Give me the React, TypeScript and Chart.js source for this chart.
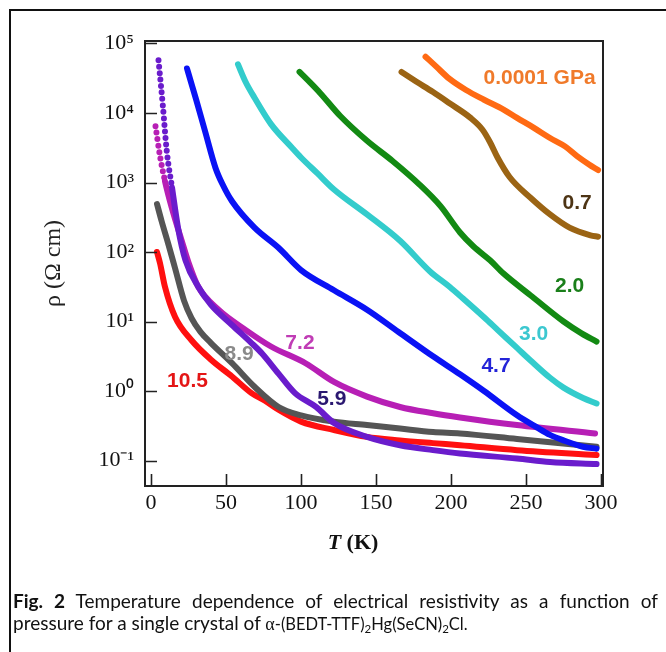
import React, { useEffect, useRef } from 'react';
import { Chart, registerables } from 'chart.js';

Chart.register(...registerables);

// ---------- axis ticks ----------
const xTickValues = [0, 50, 100, 150, 200, 250, 300];
const yTickValues = [0.1, 1, 10, 100, 1000, 10000, 100000];

// ---------- series (T in K, rho in ohm cm) ----------
const T_p0001 = [183, 190, 199, 210, 222, 235, 244, 255, 266, 276, 284, 292, 298];
const R_p0001 = [64600, 46800, 30900, 21400, 15500, 11200, 8500, 6170, 4370, 3310, 2400, 1820, 1510];

const T_p07 = [167, 177, 188, 199, 213, 221, 226, 231, 239, 253, 266, 279, 293, 298];
const R_p07 = [38900, 28200, 20000, 13800, 8510, 5750, 3800, 2290, 1200, 603, 347, 224, 174, 166];

const T_p20 = [99, 106, 113, 126, 144, 161, 179, 193, 206, 215, 226, 235, 254, 275, 287, 297];
const R_p20 = [38900, 27500, 19100, 9120, 3980, 2040, 933, 457, 191, 120, 76, 49, 22.9, 10, 6.76, 5.13];

const T_p30 = [58, 63, 69, 80, 94, 100, 111, 122, 144, 166, 186, 199, 208, 222, 231, 244, 253, 266, 275, 288, 297];
const R_p30 = [50100, 28200, 16600, 6920, 3160, 2290, 1350, 794, 347, 145, 52.5, 31.6, 21.4, 11.5, 7.59, 4.17, 2.75, 1.55, 1.12, 0.794, 0.661];

const T_p47 = [24, 27, 30, 36, 43, 48, 54, 69, 85, 100, 122, 144, 165, 188, 206, 222, 244, 257, 266, 275, 288, 297];
const R_p47 = [43700, 26300, 15800, 5500, 1620, 912, 537, 224, 115, 55, 28.2, 14.8, 7.08, 3.16, 1.74, 1.0, 0.447, 0.302, 0.234, 0.195, 0.158, 0.148];

const T_p59 = [5, 8, 10.5, 14, 18, 23, 31.5, 40, 54, 67, 74, 85, 96, 110, 122, 144, 166, 188, 206, 244, 266, 297];
const R_p59 = [57500, 12000, 2820, 851, 224, 75.9, 31.6, 17.4, 8.91, 4.9, 3.47, 1.78, 0.933, 0.589, 0.347, 0.219, 0.166, 0.141, 0.126, 0.107, 0.0955, 0.0891];

const T_p72 = [3, 6, 9.3, 13.8, 20.5, 25, 31.5, 45, 63, 80, 103, 122, 144, 166, 188, 206, 244, 296];
const R_p72 = [6460, 2400, 1050, 437, 145, 70.8, 31.6, 14.8, 7.59, 4.37, 2.51, 1.35, 0.832, 0.589, 0.479, 0.417, 0.324, 0.245];

const T_p89 = [4, 7, 11.6, 16, 22, 27, 33, 40, 54, 69, 85, 100, 122, 144, 166, 188, 206, 244, 297];
const R_p89 = [490, 282, 129, 58.9, 20, 11.2, 7.08, 4.9, 2.51, 1.15, 0.589, 0.447, 0.363, 0.324, 0.288, 0.257, 0.245, 0.204, 0.158];

const T_p105 = [4, 6, 9.3, 16, 27, 40, 54, 67, 76, 85, 100, 122, 144, 166, 188, 206, 244, 297];
const R_p105 = [100, 69.2, 31.6, 11.7, 5.37, 2.82, 1.62, 0.933, 0.724, 0.537, 0.363, 0.275, 0.219, 0.195, 0.178, 0.166, 0.141, 0.12];

const seriesNames = ['0.0001 GPa', '0.7', '2.0', '3.0', '4.7', '5.9', '7.2', '8.9', '10.5'];
const seriesT = [T_p0001, T_p07, T_p20, T_p30, T_p47, T_p59, T_p72, T_p89, T_p105];
const seriesR = [R_p0001, R_p07, R_p20, R_p30, R_p47, R_p59, R_p72, R_p89, R_p105];
// low-T part measured as sparse points (drawn dotted) above this resistivity
const dottedAbove = [Infinity, Infinity, Infinity, Infinity, Infinity, 1000, 2000, Infinity, Infinity];

// curve label anchors (data coordinates)
const labelT = [259, 284, 279, 255, 230, 120.5, 99.3, 58.7, 24.3];
const labelR = [31600, 500, 32, 6.6, 2.3, 0.77, 4.9, 3.4, 1.38];

const lineColors = ['#ff6a13', '#9b6414', '#138a13', '#33cccc', '#0a12f5', '#6a1ccc', '#b71fb5', '#555555', '#ff1010'];
const textColors = ['#f07a2a', '#4d3414', '#1a7f1a', '#3cc8d0', '#2424d8', '#2a1770', '#c03cb5', '#8a8a8a', '#e41515'];

const SERIF = '"Liberation Serif", "Times New Roman", serif';
const SANS = '"Liberation Sans", Arial, sans-serif';

const supMap: Record<string, string> = { '-': '⁻', '0': '⁰', '1': '¹', '2': '²', '3': '³', '4': '⁴', '5': '⁵', '6': '⁶', '7': '⁷', '8': '⁸', '9': '⁹' };
const sup = (n: number) => String(n).split('').map((c) => supMap[c] || c).join('');

const decorPlugin = {
  id: 'decor',
  afterDatasetsDraw(chart: any) {
    const { ctx, chartArea: a, scales } = chart;
    const x = scales.x;
    const y = scales.y;
    ctx.save();
    // frame
    ctx.strokeStyle = '#222';
    ctx.lineWidth = 2;
    ctx.strokeRect(a.left, a.top, a.right - a.left, a.bottom - a.top);
    // inward ticks
    ctx.beginPath();
    xTickValues.forEach((v) => {
      const px = Math.round(x.getPixelForValue(v)) + 0.5;
      ctx.moveTo(px, a.bottom);
      ctx.lineTo(px, a.bottom - 12);
    });
    yTickValues.forEach((v) => {
      const py = Math.round(y.getPixelForValue(v)) + 0.5;
      ctx.moveTo(a.left, py);
      ctx.lineTo(a.left + 12, py);
    });
    ctx.lineWidth = 1.6;
    ctx.stroke();
    // curve labels
    ctx.font = 'bold 21px ' + SANS;
    ctx.textAlign = 'center';
    ctx.textBaseline = 'middle';
    seriesNames.forEach((name, i) => {
      ctx.fillStyle = textColors[i];
      ctx.fillText(name, x.getPixelForValue(labelT[i]), y.getPixelForValue(labelR[i]));
    });
    // x axis title: italic T + (K)
    const f1 = 'italic bold 22px ' + SERIF;
    const f2 = 'bold 22px ' + SERIF;
    ctx.font = f1;
    const w1 = ctx.measureText('T').width;
    ctx.font = f2;
    const w2 = ctx.measureText(' (K)').width;
    const cx = a.left + 208;
    const startX = cx - (w1 + w2) / 2;
    const base = a.bottom + 63;
    ctx.textAlign = 'left';
    ctx.textBaseline = 'alphabetic';
    ctx.fillStyle = '#111';
    ctx.font = f1;
    ctx.fillText('T', startX, base);
    ctx.font = f2;
    ctx.fillText(' (K)', startX + w1, base);
    ctx.restore();
  },
};

function ResistivityChart() {
  const ref = useRef<HTMLCanvasElement | null>(null);
  useEffect(() => {
    if (!ref.current) return;
    const datasets = seriesT.map((ts, i) => ({
      label: seriesNames[i],
      data: ts.map((t, j) => ({ x: t, y: seriesR[i][j] })),
      borderColor: lineColors[i],
      backgroundColor: lineColors[i],
      borderWidth: 6,
      pointRadius: 0,
      fill: false,
      cubicInterpolationMode: 'monotone' as const,
      borderCapStyle: 'round' as const,
      borderJoinStyle: 'round' as const,
      segment: {
        borderDash: (c: any) => (c.p0.parsed.y > dottedAbove[i] ? [0, 6.5] : undefined),
      },
    }));
    const chart = new Chart(ref.current, {
      type: 'line',
      data: { datasets },
      options: {
        animation: false,
        responsive: false,
        events: [],
        layout: { padding: { left: 0, top: 41, right: 63, bottom: 0 } },
        plugins: { legend: { display: false }, tooltip: { enabled: false } },
        scales: {
          x: {
            type: 'linear',
            min: -4,
            max: 301.3,
            afterBuildTicks: (s: any) => {
              s.ticks = xTickValues.map((v) => ({ value: v }));
            },
            afterFit: (s: any) => {
              s.height = 114;
            },
            grid: { display: false, drawTicks: false },
            border: { display: false },
            ticks: {
              padding: 4,
              autoSkip: false,
              maxRotation: 0,
              color: '#111',
              font: { family: SERIF, size: 22 },
              callback: (v: any) => String(v),
            },
          },
          y: {
            type: 'logarithmic',
            min: 0.043,
            max: 108600,
            afterBuildTicks: (s: any) => {
              s.ticks = yTickValues.map((v) => ({ value: v }));
            },
            afterFit: (s: any) => {
              s.width = 145;
            },
            grid: { display: false, drawTicks: false },
            border: { display: false },
            ticks: {
              padding: 11,
              autoSkip: false,
              color: '#111',
              font: { family: SERIF, size: 22 },
              callback: (v: any) => '10' + sup(Math.round(Math.log10(Number(v)))),
            },
            title: {
              display: true,
              text: 'ρ (Ω cm)',
              color: '#222',
              font: { family: SERIF, size: 24 },
              padding: { top: 39, bottom: 0 },
            },
          },
        },
      },
      plugins: [decorPlugin],
    });
    return () => chart.destroy();
  }, []);
  return <canvas ref={ref} width={666} height={600} style={{ position: 'absolute', left: 0, top: 0, width: 666, height: 600 }} />;
}

export default function App() {
  return (
    <div style={{ position: 'fixed', left: 0, top: 0, width: 666, height: 652, overflow: 'hidden', background: '#fff' }}>
      <div style={{ position: 'absolute', left: 9, top: 9, width: 800, height: 800, border: '2px solid #111', boxSizing: 'border-box' }} />
      <ResistivityChart />
      <div
        style={{
          position: 'absolute',
          left: 13,
          top: 590,
          fontFamily: 'Lato, "Noto Sans", sans-serif',
          fontSize: 19,
          lineHeight: '21.5px',
          color: '#111',
        }}
      >
        <div style={{ width: 645, textAlign: 'justify', textAlignLast: 'justify' }}>
          <b>Fig. 2</b> Temperature dependence of electrical resistivity as a function of
        </div>
        <div style={{ whiteSpace: 'nowrap' }}>
          pressure for a single crystal of{' '}
          <span style={{ fontSize: 16.5 }}>
            <span style={{ fontFamily: SERIF, fontSize: 18 }}>α</span>-(BEDT-TTF)
            <sub style={{ fontSize: 11.5, verticalAlign: '-3px', lineHeight: 0 }}>2</sub>Hg(SeCN)
            <sub style={{ fontSize: 11.5, verticalAlign: '-3px', lineHeight: 0 }}>2</sub>Cl.
          </span>
        </div>
      </div>
    </div>
  );
}
